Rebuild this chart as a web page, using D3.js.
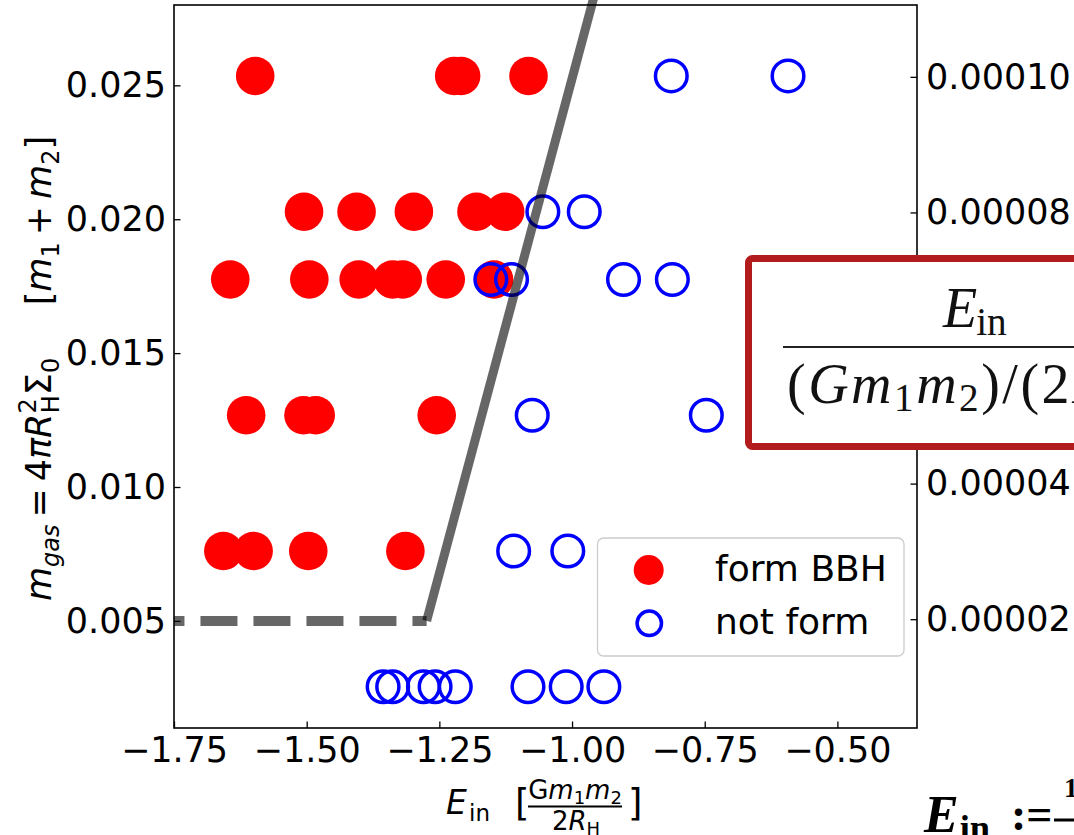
<!DOCTYPE html>
<html>
<head>
<meta charset="utf-8">
<script src="https://cdn.jsdelivr.net/npm/d3@7"></script>
<style>
  body { margin: 0; background: #fff; }
  svg { display: block; }
</style>
</head>
<body>
<svg id="chart" width="1074" height="835"></svg>
<script>
// ---- data ---------------------------------------------------------------
// Runs that formed a binary black hole: inner energy E_in and gas mass m_gas
const formE = [
  -1.597, -1.222, -1.209, -1.082,
  -1.505, -1.406, -1.298, -1.180, -1.126,
  -1.644, -1.495, -1.402, -1.338, -1.319, -1.238, -1.147,
  -1.614, -1.506, -1.483, -1.255,
  -1.657, -1.600, -1.497, -1.314
];
const formM = [
  0.02535, 0.02535, 0.02535, 0.02535,
  0.02028, 0.02028, 0.02028, 0.02028, 0.02028,
  0.01775, 0.01775, 0.01775, 0.01775, 0.01775, 0.01775, 0.01775,
  0.01268, 0.01268, 0.01268, 0.01268,
  0.00761, 0.00761, 0.00761, 0.00761
];
// Runs that did not form a binary
const notFormE = [
  -0.813, -0.593,
  -1.055, -0.977,
  -1.153, -1.114, -0.903, -0.811,
  -1.075, -0.747,
  -1.110, -1.008,
  -1.356, -1.338, -1.280, -1.258, -1.220, -1.083, -1.011, -0.940
];
const notFormM = [
  0.02535, 0.02535,
  0.02028, 0.02028,
  0.01775, 0.01775, 0.01775, 0.01775,
  0.01268, 0.01268,
  0.00761, 0.00761,
  0.00254, 0.00254, 0.00254, 0.00254, 0.00254, 0.00254, 0.00254, 0.00254
];
// Dividing line between the two outcomes
const boundaryE = [-1.274, -0.956];
const boundaryM = [0.005, 0.0285];
const floorE = [-1.8, -1.274];
const floorM = [0.005, 0.005];

// Axes
const xDomain = [-1.75, -0.35];
const yDomain = [0.001, 0.028];
const sigmaPerMgas = 0.00395;          // Sigma_0 per unit m_gas (right axis)
const xTicks = [-1.75, -1.50, -1.25, -1.00, -0.75, -0.50];
const yTicks = [0.005, 0.010, 0.015, 0.020, 0.025];
const rightTicks = [0.00002, 0.00004, 0.00006, 0.00008, 0.00010];
const legendLabels = ["form BBH", "not form"];

// ---- layout -------------------------------------------------------------
const plot = { left: 174, right: 917, top: 5, bottom: 728 };
const svg = d3.select("#chart");
svg.append("rect").attr("width", 1074).attr("height", 835).attr("fill", "#fff");

const x = d3.scaleLinear().domain(xDomain).range([plot.left, plot.right]);
const y = d3.scaleLinear().domain(yDomain).range([plot.bottom, plot.top]);
const yR = d3.scaleLinear().domain(yDomain.map(v => v * sigmaPerMgas)).range([plot.bottom, plot.top]);

svg.append("clipPath").attr("id", "plotClip")
  .append("rect")
  .attr("x", plot.left).attr("y", plot.top)
  .attr("width", plot.right - plot.left).attr("height", plot.bottom - plot.top);

const RED = "#ff0000", BLUE = "#0000ff";

// ---- markers ------------------------------------------------------------
const formPts = formE.map((e, i) => [e, formM[i]]);
const notPts = notFormE.map((e, i) => [e, notFormM[i]]);

svg.append("g").selectAll("circle").data(formPts).join("circle")
  .attr("cx", d => x(d[0])).attr("cy", d => y(d[1])).attr("r", 19.3)
  .attr("fill", RED);

svg.append("g").selectAll("circle").data(notPts).join("circle")
  .attr("cx", d => x(d[0])).attr("cy", d => y(d[1])).attr("r", 15.8)
  .attr("fill", "none").attr("stroke", BLUE).attr("stroke-width", 3.5);

// ---- boundary lines -----------------------------------------------------
const line = d3.line().x(d => x(d[0])).y(d => y(d[1]));
svg.append("path")
  .datum(floorE.map((e, i) => [e, floorM[i]]))
  .attr("d", line).attr("clip-path", "url(#plotClip)")
  .attr("fill", "none").attr("stroke", "#000").attr("stroke-opacity", 0.6)
  .attr("stroke-width", 10).attr("stroke-dasharray", "37,16");
svg.append("path")
  .datum(boundaryE.map((e, i) => [e, boundaryM[i]]))
  .attr("d", line)
  .attr("fill", "none").attr("stroke", "#000").attr("stroke-opacity", 0.6)
  .attr("stroke-width", 9);

// ---- axes ---------------------------------------------------------------
const TICK_FONT = 35;
function styleAxis(g) {
  g.select(".domain").remove();
  g.attr("font-size", null).attr("font-family", null);
  g.selectAll(".tick line").attr("stroke", "#000").attr("stroke-width", 1.3);
  g.selectAll(".tick text").attr("fill", "#000")
    .attr("font-family", "DejaVu Sans").attr("font-size", TICK_FONT);
}

svg.append("g").attr("transform", `translate(0,${plot.bottom})`)
  .call(d3.axisBottom(x).tickValues(xTicks).tickFormat(d3.format(".2f"))
    .tickSizeInner(-6.5).tickSizeOuter(0).tickPadding(9.5))
  .call(styleAxis);

svg.append("g").attr("transform", `translate(${plot.left},0)`)
  .call(d3.axisLeft(y).tickValues(yTicks).tickFormat(d3.format(".3f"))
    .tickSizeInner(-6.5).tickSizeOuter(0).tickPadding(8))
  .call(styleAxis);

svg.append("g").attr("transform", `translate(${plot.right},0)`)
  .call(d3.axisRight(yR).tickValues(rightTicks).tickFormat(d3.format(".5f"))
    .tickSizeInner(-6.5).tickSizeOuter(0).tickPadding(9))
  .call(styleAxis);

// frame
svg.append("rect")
  .attr("x", plot.left).attr("y", plot.top)
  .attr("width", plot.right - plot.left).attr("height", plot.bottom - plot.top)
  .attr("fill", "none").attr("stroke", "#000").attr("stroke-width", 1.6);

// ---- axis titles --------------------------------------------------------
// y title: m_gas = 4 pi R_H^2 Sigma_0  [m_1 + m_2]
const yt = svg.append("text")
  .attr("transform", `translate(51,${(plot.top + plot.bottom) / 2 + 2}) rotate(-90)`)
  .attr("text-anchor", "middle")
  .attr("font-family", "DejaVu Sans").attr("font-size", 35).attr("fill", "#000");
const ySeg = [
  ["m", { fs: "italic" }],
  ["gas", { fs: "italic", size: 24, dy: 8 }],
  ["\u2009=\u20094", { dy: -8 }],
  ["\u03c0", { fs: "italic" }],
  ["R", { fs: "italic" }],
  ["2", { size: 24, dy: -15 }],
  ["H", { size: 24, dy: 23, dx: -15 }],
  ["\u03a3", { dy: -8 }],
  ["0", { size: 24, dy: 8 }],
  ["\u2003\u2002[", { dy: -8 }],
  ["m", { fs: "italic" }],
  ["1", { size: 24, dy: 8 }],
  ["\u2009+\u2009", { dy: -8 }],
  ["m", { fs: "italic" }],
  ["2", { size: 24, dy: 8 }],
  ["]", { dy: -8 }]
];
ySeg.forEach(([t, o]) => {
  const ts = yt.append("tspan").text(t);
  if (o.fs) ts.attr("font-style", o.fs);
  if (o.size) ts.attr("font-size", o.size);
  if (o.dy) ts.attr("dy", o.dy);
  if (o.dx) ts.attr("dx", o.dx);
});

// x title: E_in  [G m1 m2 / 2 R_H]
const xt = svg.append("g").attr("font-family", "DejaVu Sans").attr("fill", "#000");
xt.append("text").attr("x", 446).attr("y", 814).attr("font-size", 33)
  .attr("font-style", "italic").text("E");
xt.append("text").attr("x", 469).attr("y", 821).attr("font-size", 23).text("in");
xt.append("text").attr("x", 515).attr("y", 816).attr("font-size", 37).text("[");
const num = xt.append("text").attr("x", 575).attr("y", 799)
  .attr("text-anchor", "middle").attr("font-size", 26);
num.append("tspan").text("G");
num.append("tspan").attr("font-style", "italic").text("m");
num.append("tspan").attr("font-size", 18).attr("dy", 5).text("1");
num.append("tspan").attr("font-style", "italic").attr("dy", -5).text("m");
num.append("tspan").attr("font-size", 18).attr("dy", 5).text("2");
xt.append("line").attr("x1", 528).attr("x2", 622).attr("y1", 806.5).attr("y2", 806.5)
  .attr("stroke", "#000").attr("stroke-width", 1.8);
const den = xt.append("text").attr("x", 576).attr("y", 830)
  .attr("text-anchor", "middle").attr("font-size", 26);
den.append("tspan").text("2");
den.append("tspan").attr("font-style", "italic").text("R");
den.append("tspan").attr("font-size", 18).attr("dy", 5).text("H");
xt.append("text").attr("x", 628).attr("y", 816).attr("font-size", 37).text("]");

// ---- legend -------------------------------------------------------------
const lg = svg.append("g");
lg.append("rect").attr("x", 597.5).attr("y", 538).attr("width", 306.5).attr("height", 118)
  .attr("rx", 6).attr("fill", "#fff").attr("fill-opacity", 0.8)
  .attr("stroke", "#cccccc").attr("stroke-width", 1.3);
lg.append("circle").attr("cx", 648.7).attr("cy", 570).attr("r", 15).attr("fill", RED);
lg.append("circle").attr("cx", 649.3).attr("cy", 623.3).attr("r", 12.2)
  .attr("fill", "none").attr("stroke", BLUE).attr("stroke-width", 3.5);
lg.selectAll("text.lbl").data(legendLabels).join("text").attr("class", "lbl")
  .attr("x", 715).attr("y", (d, i) => 581 + i * 53)
  .attr("font-family", "DejaVu Sans").attr("font-size", 36).attr("fill", "#000")
  .text(d => d);

// ---- definition box -----------------------------------------------------
const SERIF = "Liberation Serif";
const box = svg.append("g").attr("font-family", SERIF).attr("fill", "#111");
box.append("rect").attr("x", 748.5).attr("y", 258.5).attr("width", 420).attr("height", 188)
  .attr("rx", 4).attr("fill", "#fff").attr("stroke", "#b21c1c").attr("stroke-width", 7);

// runs of a single text element, flowed by the font
function flow(g, x0, baseline, size, runs, extra) {
  const t = g.append("text").attr("x", x0).attr("y", baseline).attr("font-size", size);
  if (extra) extra(t);
  let shift = 0;
  runs.forEach(([s, o]) => {
    o = o || {};
    const ts = t.append("tspan").text(s);
    const want = o.dy || 0;
    if (want !== shift) { ts.attr("dy", want - shift); shift = want; }
    if (o.scale) ts.attr("font-size", size * o.scale);
    if (o.italic) ts.attr("font-style", "italic");
    if (o.bold) ts.attr("font-weight", "bold");
    if (o.dx) ts.attr("dx", o.dx);
  });
  return t;
}
flow(box, 943, 327, 56, [
  ["E", { italic: true }],
  ["in", { scale: 0.7, dy: 8, dx: -1 }]
]);
box.append("line").attr("x1", 783).attr("x2", 1180).attr("y1", 347).attr("y2", 347)
  .attr("stroke", "#222").attr("stroke-width", 2.2);
flow(box, 787, 403, 56, [
  ["("],
  ["G", { italic: true }],
  ["m", { italic: true }],
  ["1", { scale: 0.7, dy: 8 }],
  ["m", { italic: true }],
  ["2", { scale: 0.7, dy: 8 }],
  [")"],
  ["/"],
  ["("],
  ["2"],
  ["R", { italic: true }],
  ["H", { scale: 0.7, dy: 8 }],
  [")"]
], t => t.attr("letter-spacing", 2.5));

// ---- definition footnote ------------------------------------------------
const foot = svg.append("g").attr("font-family", SERIF).attr("fill", "#000");
flow(foot, 924, 832, 52, [
  ["E", { italic: true, bold: true }],
  ["in", { bold: true, scale: 0.7, dy: 8, dx: 1 }]
]);
foot.append("text").attr("x", 1011).attr("y", 830)
  .attr("font-weight", "bold").attr("font-size", 46).text(":=");
foot.append("line").attr("x1", 1054).attr("x2", 1090).attr("y1", 820).attr("y2", 820)
  .attr("stroke", "#000").attr("stroke-width", 3);
foot.append("text").attr("x", 1064).attr("y", 797)
  .attr("font-weight", "bold").attr("font-size", 28).text("1");
foot.append("text").attr("x", 1060).attr("y", 858)
  .attr("font-weight", "bold").attr("font-size", 28).text("2");
</script>
</body>
</html>
